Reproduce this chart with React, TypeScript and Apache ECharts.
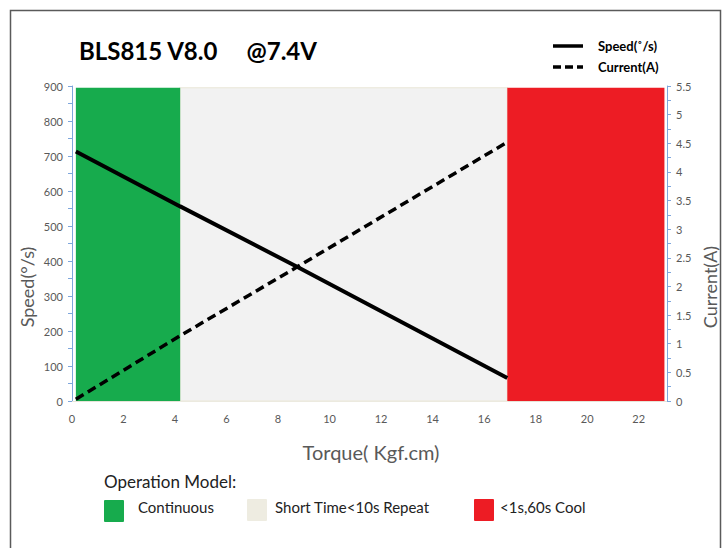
import React, { useEffect, useRef } from "react";
import * as echarts from "echarts";

const torque = [0.15, 4.2, 8.7, 16.9];
const speed = [713, 556, 385, 66];
const current = [0.03, 1.14, 2.33, 4.52];

const greenBand = [0.15, 4.2];
const greyBand = [4.2, 16.9];
const redBand = [16.9, 23.0];
const bandTop = 895;

const xTicks = [0, 2, 4, 6, 8, 10, 12, 14, 16, 18, 20, 22];

const GREEN = "#17ab4d";
const GREY = "#f2f2f2";
const BEIGE = "#eeece1";
const RED = "#ed1c24";
const AXIS_BLUE = "#7ea6dc";
const LABEL = "#595959";
const FONT = "Lato, 'Open Sans', sans-serif";

export default function App() {
  const ref = useRef<HTMLDivElement>(null);
  useEffect(() => {
    if (!ref.current) return;
    const chart = echarts.init(ref.current, undefined, { renderer: "svg" });
    const band = (r: number[], color: string, border?: string) => [
      {
        xAxis: r[0],
        yAxis: 0,
        itemStyle: { color, borderColor: border || color, borderWidth: border ? 1.5 : 0 },
      },
      { xAxis: r[1], yAxis: bandTop },
    ];
    chart.setOption({
      animation: false,
      backgroundColor: "#fff",
      textStyle: { fontFamily: FONT },
      grid: { left: 72, right: 59, top: 86, bottom: 147, containLabel: false },
      xAxis: {
        type: "value",
        min: 0,
        max: 23.1,
        interval: 2,
        axisLine: { show: true, lineStyle: { color: "#e6e4d8", width: 1 } },
        axisTick: { show: false },
        splitLine: { show: false },
        axisLabel: {
          color: LABEL,
          fontSize: 11,
          margin: 12,
          fontFamily: FONT,
          showMaxLabel: false,
          formatter: (v: number) => (xTicks.includes(v) ? String(v) : ""),
        },
      },
      yAxis: [
        {
          type: "value",
          min: 0,
          max: 900,
          interval: 100,
          position: "left",
          axisLine: { show: true, lineStyle: { color: AXIS_BLUE, width: 1 } },
          axisTick: { show: true, inside: false, length: 4, lineStyle: { color: AXIS_BLUE } },
          minorTick: { show: true, splitNumber: 2, length: 4, lineStyle: { color: AXIS_BLUE } },
          splitLine: { show: false },
          axisLabel: { color: LABEL, fontSize: 11, margin: 9, fontFamily: FONT },
        },
        {
          type: "value",
          min: 0,
          max: 5.5,
          interval: 0.5,
          position: "right",
          axisLine: { show: true, lineStyle: { color: AXIS_BLUE, width: 1 } },
          axisTick: { show: true, inside: false, length: 4, lineStyle: { color: AXIS_BLUE } },
          minorTick: { show: true, splitNumber: 2, length: 4, lineStyle: { color: AXIS_BLUE } },
          splitLine: { show: false },
          axisLabel: { color: LABEL, fontSize: 11, margin: 9, fontFamily: FONT },
        },
      ],
      series: [
        {
          name: "Speed(˚/s)",
          type: "line",
          yAxisIndex: 0,
          data: torque.map((t, i) => [t, speed[i]]),
          showSymbol: false,
          lineStyle: { color: "#000", width: 4 },
          z: 5,
          markArea: {
            silent: true,
            z: 1,
            data: [
              band(greyBand, GREY, BEIGE),
              band(greenBand, GREEN),
              band(redBand, RED),
            ],
          },
        },
        {
          name: "Current(A)",
          type: "line",
          yAxisIndex: 1,
          data: torque.map((t, i) => [t, current[i]]),
          showSymbol: false,
          lineStyle: { color: "#000", width: 3.5, type: [9, 5] },
          z: 5,
        },
      ],
      graphic: [
        {
          type: "rect",
          silent: true,
          shape: { x: 10.5, y: 10.5, width: 710, height: 600 },
          style: { fill: "none", stroke: "#5a5a5a", lineWidth: 1.5 },
        },
        {
          type: "text",
          left: 79,
          top: 38,
          style: {
            text: "BLS815 V8.0     @7.4V",
            font: `bold 24px ${FONT}`,
            fill: "#000",
          },
        },
        {
          type: "line",
          shape: { x1: 553, y1: 46, x2: 583, y2: 46 },
          style: { stroke: "#000", lineWidth: 3.5 },
        },
        {
          type: "line",
          shape: { x1: 553, y1: 67, x2: 583, y2: 67 },
          style: { stroke: "#000", lineWidth: 3.5, lineDash: [8, 4] },
        },
        {
          type: "text",
          x: 598,
          y: 46,
          style: {
            text: "Speed(˚/s)",
            font: `bold 13px ${FONT}`,
            fill: "#000",
            verticalAlign: "middle",
          },
        },
        {
          type: "text",
          x: 598,
          y: 67,
          style: {
            text: "Current(A)",
            font: `bold 13px ${FONT}`,
            fill: "#000",
            verticalAlign: "middle",
          },
        },
        {
          type: "text",
          x: 27,
          y: 287,
          rotation: Math.PI / 2,
          style: {
            text: "Speed(°/s)",
            font: `18px ${FONT}`,
            fill: LABEL,
            align: "center",
            verticalAlign: "middle",
          },
        },
        {
          type: "text",
          x: 710,
          y: 287,
          rotation: Math.PI / 2,
          style: {
            text: "Current(A)",
            font: `18px ${FONT}`,
            fill: LABEL,
            align: "center",
            verticalAlign: "middle",
          },
        },
        {
          type: "text",
          x: 371,
          y: 452,
          style: {
            text: "Torque( Kgf.cm)",
            font: `20px ${FONT}`,
            fill: LABEL,
            align: "center",
            verticalAlign: "middle",
          },
        },
        {
          type: "text",
          x: 104,
          y: 481,
          style: {
            text: "Operation Model:",
            font: `17px ${FONT}`,
            fill: "#222",
            verticalAlign: "middle",
          },
        },
        {
          type: "rect",
          shape: { x: 104, y: 500, width: 20, height: 22, r: 1 },
          style: { fill: GREEN },
        },
        {
          type: "text",
          x: 138,
          y: 507,
          style: { text: "Continuous", font: `15px ${FONT}`, fill: "#222", verticalAlign: "middle" },
        },
        {
          type: "rect",
          shape: { x: 247, y: 499, width: 20, height: 22, r: 1 },
          style: { fill: BEIGE },
        },
        {
          type: "text",
          x: 275,
          y: 507,
          style: {
            text: "Short Time<10s Repeat",
            font: `15px ${FONT}`,
            fill: "#222",
            verticalAlign: "middle",
          },
        },
        {
          type: "rect",
          shape: { x: 474, y: 499, width: 20, height: 22, r: 1 },
          style: { fill: RED },
        },
        {
          type: "text",
          x: 500,
          y: 507,
          style: { text: "<1s,60s Cool", font: `15px ${FONT}`, fill: "#222", verticalAlign: "middle" },
        },
      ],
    });
    return () => chart.dispose();
  }, []);
  return (
    <div
      ref={ref}
      style={{ position: "absolute", left: 0, top: 0, width: 726, height: 548 }}
    />
  );
}
